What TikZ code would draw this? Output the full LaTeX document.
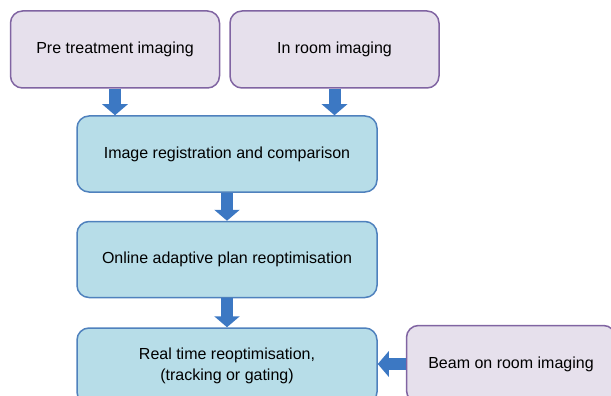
\documentclass[tikz,border=0pt]{standalone}
\usepackage{fontspec}
\setmainfont{Liberation Sans}
\usepackage{tikz}
\usepackage{xcolor}
\usetikzlibrary{arrows.meta, positioning, calc}
\definecolor{cPurple}{RGB}{128,100,162}
\definecolor{cLilac}{RGB}{230,224,236}
\definecolor{cBlueLine}{RGB}{79,129,189}
\definecolor{cBlueFill}{RGB}{183,221,232}
\definecolor{cArrow}{RGB}{60,120,195}
\tikzset{
	imgbox/.style ={rectangle, rounded corners=12pt, draw=cPurple, fill=cLilac, line width=1.5pt, minimum width=209pt, minimum height=77pt, align=center},
	stepbox/.style={rectangle, rounded corners=12pt, draw=cBlueLine, fill=cBlueFill, line width=1.5pt, minimum width=300pt, minimum height=76pt, align=center},
	bigarrow/.style={-{Triangle[width=25pt, length=11pt]}, line width=12pt, draw=cArrow},
}

\begin{document}
\begin{tikzpicture}[x=1pt, y=1pt, font=\fontsize{16}{21.5}\selectfont, node distance=9pt]
	\useasboundingbox (0,0) rectangle (611,-396);
	\node[imgbox] (pre) at (115,-49.5) {Pre treatment imaging};
	\node[imgbox, right=of pre] (room) {In room imaging};
	\node[stepbox] (reg) at (227,-154) {Image registration and comparison};
	\node[stepbox, below=28pt of reg] (online) {Online adaptive plan reoptimisation};
	\node[stepbox, below=29pt of online] (real) {Real time reoptimisation,\\ (tracking or gating)};
	\node[imgbox, right=28pt of real, yshift=2pt] (beam) {Beam on room imaging};
	\draw[bigarrow] (pre.south) -- (pre.south |- reg.north);
	\draw[bigarrow] (room.south) -- (room.south |- reg.north);
	\draw[bigarrow] (reg) -- (online);
	\draw[bigarrow] (online) -- (real);
	\draw[bigarrow] (beam.west) -- (beam.west -| real.east);
\end{tikzpicture}
\end{document}
